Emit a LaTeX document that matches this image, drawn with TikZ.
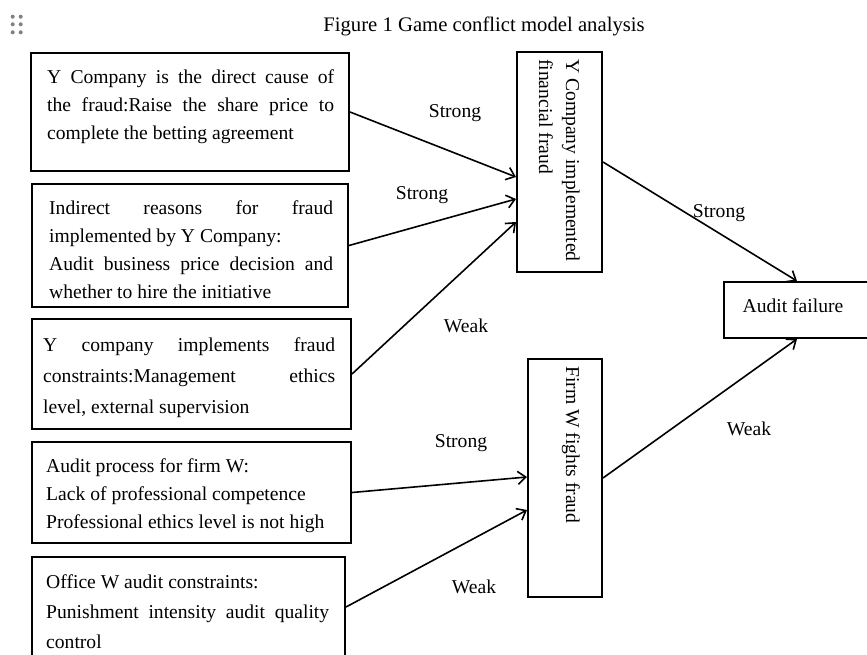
\documentclass[tikz,border=0pt]{standalone}
\usepackage{fontspec}
\setmainfont{Liberation Serif}
\usetikzlibrary{arrows.meta,calc}
\begin{document}
\begin{tikzpicture}[x=1pt,y=-1pt,
  box/.style={draw, line width=2pt, inner sep=0pt, rectangle},
  txt/.style={inner sep=0pt, align=left, font=\fontsize{19.6}{28}\selectfont},
  lbl/.style={inner sep=0pt, font=\fontsize{19.6}{23}\selectfont},
  arr/.style={line width=1.6pt, -{Straight Barb[length=8pt,width=13pt]}},
  grip/.style={fill=black!50}]
\useasboundingbox (0,0) rectangle (867,655);
% grip dots
\foreach \gx in {12.7,20.7}{\foreach \gy in {16.7,24.3,32.3}{\fill[grip] (\gx,\gy) circle (2pt);}}
% title
\node[lbl, font=\fontsize{20.7}{24}\selectfont] (title) at (484,26) {Figure 1 Game conflict model analysis};
% left boxes
\node[box, minimum width=318pt, minimum height=118pt] (b1) at (190,112) {};
\node[box, minimum width=316pt, minimum height=123pt] (b2) at (190,245.5) {};
\node[box, minimum width=319pt, minimum height=110pt] (b3) at (191.5,374) {};
\node[box, minimum width=319pt, minimum height=101pt] (b4) at (191.5,492.5) {};
\node[box, minimum width=313pt, minimum height=100pt] (b5) at (188.5,607) {};
% middle and right boxes
\node[box, minimum width=85pt, minimum height=220pt] (Y) at (559.5,162) {};
\node[box, minimum width=74pt, minimum height=238pt] (F) at (565,478) {};
\node[box, minimum width=146pt, minimum height=56pt] (A) at (797,310) {};
% texts
\node[txt, anchor=north west] (t1) at (47,70) {\makebox[287pt][s]{Y Company is the direct cause of}\\\makebox[287pt][s]{the fraud:Raise the share price to}\\complete the betting agreement};
\node[txt, anchor=north west] (t2) at (49,200) {\makebox[284pt][s]{Indirect reasons for fraud}\\implemented by Y Company:\\\makebox[284pt][s]{Audit business price decision and}\\whether to hire the initiative};
\node[txt, anchor=north west, font=\fontsize{19.6}{31}\selectfont] (t3) at (43,337) {\makebox[292pt][s]{Y company implements fraud}\\\makebox[292pt][s]{constraints:Management ethics}\\level, external supervision};
\node[txt, anchor=north west] (t4) at (46,458) {Audit process for firm W:\\Lack of professional competence\\Professional ethics level is not high};
\node[txt, anchor=north west, font=\fontsize{19.6}{30}\selectfont] (t5) at (46,574) {Office W audit constraints:\\\makebox[283pt][s]{Punishment intensity audit quality}\\control};
\node[txt, rotate=-90, anchor=north west, font=\fontsize{19.6}{27}\selectfont] (yt) at (580,59) {Y Company implemented\\financial fraud};
\node[txt, rotate=-90, anchor=north west] (ft) at (580,366) {Firm W fights fraud};
\node[lbl] (at) at (793,306) {Audit failure};
% labels
\node[lbl] (l1) at (455,113) {Strong};
\node[lbl] (l2) at (422,195) {Strong};
\node[lbl] (l3) at (466,326) {Weak};
\node[lbl] (l4) at (461,443) {Strong};
\node[lbl] (l5) at (474,587) {Weak};
\node[lbl] (l6) at (719,213) {Strong};
\node[lbl] (l7) at (749,429) {Weak};
% connectors
\draw[arr] (b1.east) -- ($(Y.west)+(0,15)$);
\draw[arr] (b2.east) -- ($(Y.west)+(0,37)$);
\draw[arr] (b3.east) -- ($(Y.west)+(0,60)$);
\draw[arr] (b4.east) -- ($(F.west)+(0,-1)$);
\draw[arr] (b5.east) -- ($(F.west)+(0,32)$);
\draw[arr] (Y.east) -- (A.north);
\draw[arr] (F.east) -- (A.south);
\end{tikzpicture}
\end{document}
